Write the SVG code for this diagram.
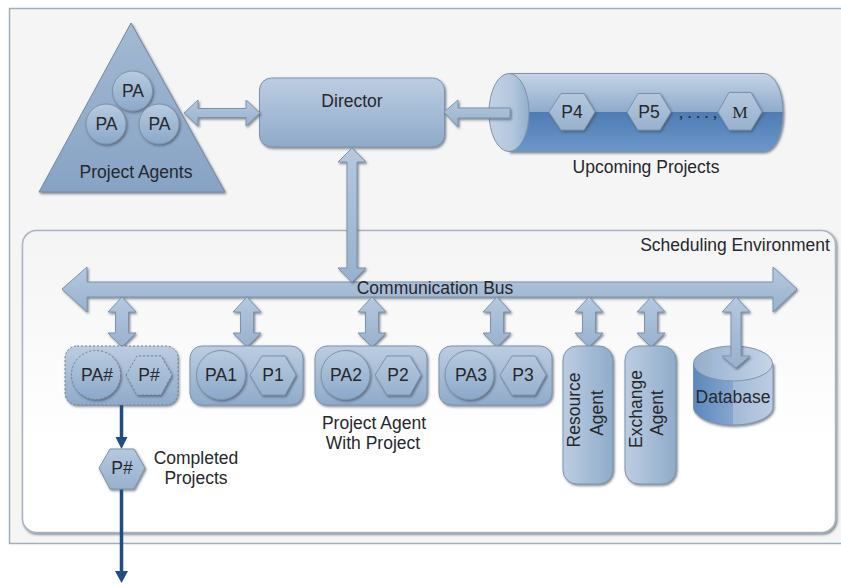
<svg xmlns="http://www.w3.org/2000/svg" width="841" height="584" viewBox="0 0 841 584">
<style>
text{font-family:"Liberation Sans",Arial,sans-serif;font-size:17.500px;fill:#26282c;text-anchor:middle}
.sh{filter:url(#shadow)}
.box{fill:url(#vgrad);stroke:#7d93ac;stroke-width:1}
.tri{fill:url(#trigrad);stroke:#7488a0;stroke-width:1}
.cir{fill:url(#cirgrad);stroke:#7d93ac;stroke-width:1}
.hex{fill:url(#hexgrad);stroke:#7d93ac;stroke-width:1}
.arr{fill:url(#arrgrad);stroke:#7d93ac;stroke-width:1}
.dash{stroke-dasharray:2 2;stroke:#6f7f92}
.flow{fill:none;stroke:#1f4e84;stroke-width:3.5}
.head{fill:#1f4e84}
</style>
<defs>
<filter id="shadow" x="-10%" y="-10%" width="125%" height="125%"><feDropShadow dx="1.2" dy="1.5" stdDeviation="0.8" flood-color="#3d4a5a" flood-opacity="0.65"/></filter>
<linearGradient id="vgrad" x1="0" y1="0" x2="0" y2="1"><stop offset="0" stop-color="#bccde2"/><stop offset="1" stop-color="#8faac9"/></linearGradient>
<linearGradient id="trigrad" x1="0" y1="0" x2="0" y2="1"><stop offset="0" stop-color="#a3b9d3"/><stop offset="1" stop-color="#87a3c4"/></linearGradient>
<linearGradient id="cirgrad" x1="0" y1="0" x2="0" y2="1"><stop offset="0" stop-color="#b8cbe0"/><stop offset="1" stop-color="#8ba8c9"/></linearGradient>
<linearGradient id="hexgrad" x1="0" y1="0" x2="0" y2="1"><stop offset="0" stop-color="#b5c8de"/><stop offset="1" stop-color="#98b1ce"/></linearGradient>
<linearGradient id="arrgrad" x1="0" y1="0" x2="0" y2="1"><stop offset="0" stop-color="#b5c8de"/><stop offset="1" stop-color="#98b1ce"/></linearGradient>
<linearGradient id="vagent" x1="0" y1="0" x2="1" y2="0"><stop offset="0" stop-color="#bccde2"/><stop offset="1" stop-color="#90abca"/></linearGradient>
<linearGradient id="env" x1="0" y1="0" x2="0" y2="1"><stop offset="0" stop-color="#f4f4f4"/><stop offset="0.7" stop-color="#ffffff"/></linearGradient>
<linearGradient id="cyl" x1="0" y1="0" x2="0" y2="1"><stop offset="0" stop-color="#c5d4e6"/><stop offset="0.49" stop-color="#8fabcc"/><stop offset="0.5" stop-color="#4f7cb3"/><stop offset="1" stop-color="#6b97cb"/></linearGradient>
<linearGradient id="cylend" x1="0" y1="0" x2="1" y2="0"><stop offset="0" stop-color="#c3d2e5"/><stop offset="0.6" stop-color="#b2c6dd"/><stop offset="1" stop-color="#92aecd"/></linearGradient>
<linearGradient id="dbtop" x1="0" y1="0" x2="1" y2="0"><stop offset="0" stop-color="#95aecc"/><stop offset="1" stop-color="#c6d5e7"/></linearGradient>
<linearGradient id="dbside" x1="0" y1="0" x2="1" y2="0"><stop offset="0" stop-color="#5a87bd"/><stop offset="0.5" stop-color="#86a7cd"/><stop offset="0.5" stop-color="#a2bad6"/><stop offset="1" stop-color="#bccde2"/></linearGradient>
</defs>

<rect width="841" height="584" fill="#ffffff"/>
<g id="frame">
<rect x="9.500" y="8.500" width="840" height="535" fill="#f5f5f5" stroke="#a3aebb" stroke-width="1.500"/>
</g>
<g id="scheduling-environment">
<rect x="22.500" y="230.500" width="813" height="302" rx="14" fill="url(#env)" stroke="#aab4bf" stroke-width="1.500" class="sh"/>
<text x="735" y="251">Scheduling Environment</text>
</g>

<g id="project-agents">
<path class="tri sh" d="M131 23L225 192H39Z"/>
<circle class="cir sh" cx="132.500" cy="91" r="20"/><text x="133" y="97">PA</text>
<circle class="cir sh" cx="106" cy="124" r="20"/><text x="106.500" y="130">PA</text>
<circle class="cir sh" cx="159" cy="124" r="20"/><text x="159.500" y="130">PA</text>
<text x="136" y="178">Project Agents</text>
</g>

<g id="upcoming-projects">
<path class="sh" d="M509 73.500H763C775 73.500 783 91 783 112.500C783 134 775 151.500 763 151.500H509Z" fill="url(#cyl)" stroke="#7d93ac"/>
<ellipse cx="509" cy="112.500" rx="20" ry="39" fill="url(#cylend)" stroke="#7d93ac"/>
<polygon class="hex sh" points="549,112 561,93.500 584,93.500 595,112 584,130 561,130"/><text x="572" y="118">P4</text>
<polygon class="hex sh" points="627,112 638,93.500 660,93.500 671,112 660,130 638,130"/><text x="649" y="118">P5</text>
<text x="698" y="118" style="font-family:'Liberation Serif',serif;font-size:17px">, . . . ,</text>
<polygon class="hex sh" points="718,112 729,92.500 751,92.500 762,112 751,130 729,130"/><text x="740" y="118" style="font-family:'Liberation Serif',serif">M</text>
<text x="646" y="173">Upcoming Projects</text>
</g>

<g id="director">
<rect class="box sh" x="259.500" y="78" width="185" height="69" rx="12"/>
<text x="352" y="107">Director</text>
</g>

<g id="connectors">
<path class="arr sh" d="M184 113L198 100V108.500H246V100L260 113L246 126V117.500H198V126Z"/>
<path class="arr sh" d="M444 112L458 100V108H510V118H458V127Z"/>
<path class="arr sh" d="M62 289L87 267V282H773V267L797 289L773 312V297H87V312Z"/>
<path class="arr sh" d="M352 148L366 162H357V268H366L352 282L338 268H347V162H338Z"/>
<path class="arr sh" d="M122 297L136 312H128.500V333H136L122 347L108 333H115.500V312H108Z"/>
<path class="arr sh" d="M247 297L261 312H253.500V333H261L247 347L233 333H240.500V312H233Z"/>
<path class="arr sh" d="M372 297L386 312H378.500V333H386L372 347L358 333H365.500V312H358Z"/>
<path class="arr sh" d="M497 297L511 312H503.500V333H511L497 347L483 333H490.500V312H483Z"/>
<path class="arr sh" d="M589 297L603 312H595.500V333H603L589 347L575 333H582.500V312H575Z"/>
<path class="arr sh" d="M651 297L665 312H657.500V333H665L651 347L637 333H644.500V312H637Z"/>
<path class="flow" d="M121.500 404V438M121.500 489V574"/>
<path class="head" d="M115.500 437H127.500L121.500 449Z"/>
<path class="head" d="M115 571H128L121.500 583Z"/>
</g>

<text x="435" y="294">Communication Bus</text>

<g id="pa-hash">
<rect class="box sh dash" x="65" y="346" width="113" height="59" rx="12"/>
<circle class="cir sh dash" cx="96" cy="375" r="24.500"/><text x="97" y="381">PA#</text>
<polygon class="hex sh dash" points="126,375 137,356 161,356 172,375 161,395 137,395"/><text x="149" y="381">P#</text>
</g>
<g id="pa1">
<rect class="box sh" x="190" y="346" width="113" height="59" rx="12"/>
<circle class="cir sh" cx="221" cy="375" r="24.500"/><text x="221" y="381">PA1</text>
<polygon class="hex sh" points="250,375 262,356 285,356 296,375 285,395 262,395"/><text x="273" y="381">P1</text>
</g>
<g id="pa2">
<rect class="box sh" x="315" y="346" width="112" height="59" rx="12"/>
<circle class="cir sh" cx="345.500" cy="375" r="24.500"/><text x="346" y="381">PA2</text>
<polygon class="hex sh" points="375,375 387,356 410,356 421,375 410,395 387,395"/><text x="398" y="381">P2</text>
<text x="374" y="429">Project Agent</text>
<text x="373" y="449">With Project</text>
</g>
<g id="pa3">
<rect class="box sh" x="439" y="346" width="113" height="59" rx="12"/>
<circle class="cir sh" cx="469.500" cy="375" r="24.500"/><text x="471" y="381">PA3</text>
<polygon class="hex sh" points="500,375 512,356 535,356 546,375 535,395 512,395"/><text x="523" y="381">P3</text>
</g>
<g id="resource-agent">
<rect class="sh" x="563" y="346" width="50" height="138" rx="14" fill="url(#vagent)" stroke="#7d93ac"/>
<text transform="translate(580 410) rotate(-90)">Resource</text>
<text transform="translate(603 413) rotate(-90)">Agent</text>
</g>
<g id="exchange-agent">
<rect class="sh" x="625" y="346" width="51" height="138" rx="14" fill="url(#vagent)" stroke="#7d93ac"/>
<text transform="translate(642 409) rotate(-90)">Exchange</text>
<text transform="translate(663 413) rotate(-90)">Agent</text>
</g>
<g id="database">
<path class="sh" d="M693.500 363.500V407C693.500 417 711 425 733 425C755 425 773 417 773 407V363.500Z" fill="url(#dbside)" stroke="#7d93ac"/>
<ellipse cx="733" cy="363.500" rx="39.500" ry="17.500" fill="url(#dbtop)" stroke="#7d93ac"/>
<text x="733" y="403">Database</text>
</g>
<g id="db-connector">
<path class="arr sh" d="M736 297L750 312H741V356H750L736 368L722 356H731V312H722Z"/>
</g>
<g id="completed">
<polygon class="hex sh" points="99,468 110,449 134,449 145,468 134,489 110,489"/><text x="122" y="474">P#</text>
<text x="196" y="464">Completed</text>
<text x="196" y="484">Projects</text>
</g>
</svg>
